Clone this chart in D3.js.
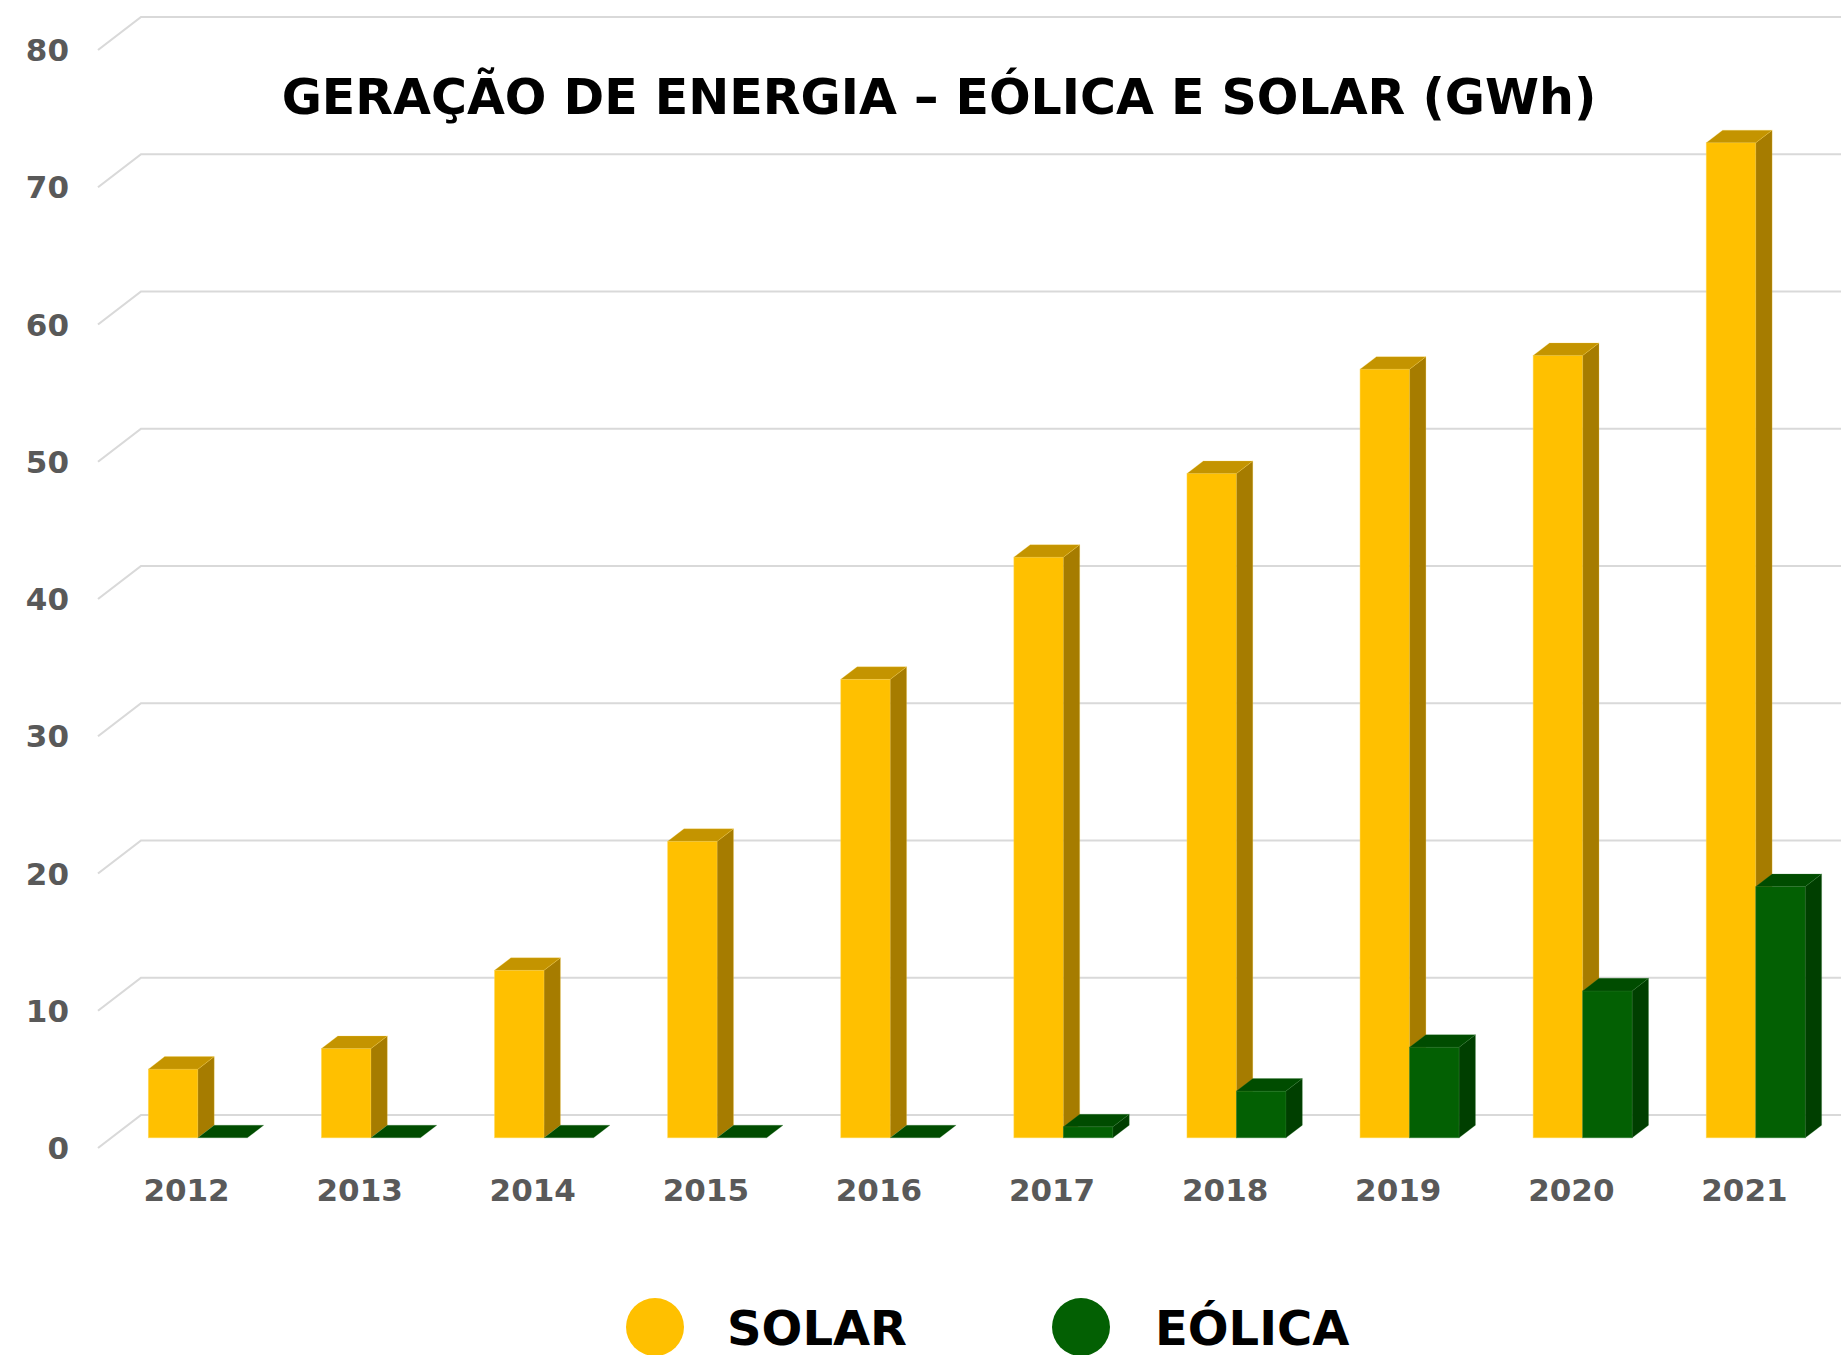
<!DOCTYPE html>
<html>
<head>
<meta charset="utf-8">
<script src="https://cdn.jsdelivr.net/npm/d3@7"></script>
<style>
  html, body { margin: 0; padding: 0; background: #ffffff; }
  svg { display: block; }
  text { font-family: "DejaVu Sans", Verdana, sans-serif; font-weight: bold; }
</style>
</head>
<body>
<svg id="chart" width="1841" height="1355"></svg>
<script>
// Annual generation, GWh
const years = ["2012", "2013", "2014", "2015", "2016", "2017", "2018", "2019", "2020", "2021"];
const solar = [5.0, 6.5, 12.2, 21.6, 33.4, 42.3, 48.4, 56.0, 57.0, 72.5];
const eolica = [0, 0, 0, 0, 0, 0.8, 3.4, 6.6, 10.7, 18.3];
const seriesNames = ["SOLAR", "EÓLICA"];
const yTicks = [0, 10, 20, 30, 40, 50, 60, 70, 80];
const titleText = "GERAÇÃO DE ENERGIA – EÓLICA E SOLAR (GWh)";

// face colours per series: front, top, side
const palette = {
  "SOLAR":  { front: "#FFC000", top: "#C49400", side: "#A67C00", edge: "#FFD54A" },
  "EÓLICA": { front: "#036003", top: "#004C00", side: "#003F00", edge: "#2E7D2E" }
};

const svg = d3.select("#chart");

// oblique projection of the floor depth
const DEPTH_X = 43, DEPTH_Y = -33;
const barFront = 0.31, barBack = 0.69;

const x = d3.scaleBand().domain(years).range([98, 1829]).paddingInner(0.428).paddingOuter(0.214);
const xs = d3.scaleBand().domain(seriesNames).range([0, x.bandwidth()]).padding(0);
const y = d3.scaleLinear().domain([0, 80]).range([1148, 50]);

// gridlines: diagonal on the side wall, then along the back wall
const grid = svg.append("g");
yTicks.forEach(t => {
  const y0 = y(t);
  grid.append("path")
    .attr("d", `M${x.range()[0]},${y0} L${x.range()[0] + DEPTH_X},${y0 + DEPTH_Y} L1841,${y0 + DEPTH_Y}`)
    .attr("fill", "none")
    .attr("stroke", "#D9D9D9")
    .attr("stroke-width", 2.2);
});

// y-axis labels
svg.append("g").selectAll("text").data(yTicks).join("text")
  .attr("x", 69)
  .attr("y", d => y(d))
  .attr("dy", "0.36em")
  .attr("text-anchor", "end")
  .attr("font-size", 31)
  .attr("fill", "#595959")
  .text(d => d);

// 3D bars
const rows = years.map((yr, i) => ({ year: yr, values: [solar[i], eolica[i]] }));
const fdx = DEPTH_X * barFront, fdy = DEPTH_Y * barFront;
const bdx = DEPTH_X * (barBack - barFront), bdy = DEPTH_Y * (barBack - barFront);

const bars = svg.append("g");
rows.forEach(r => {
  seriesNames.forEach((s, si) => {
    const v = r.values[si];
    const c = palette[s];
    const x0 = x(r.year) + xs(s) + fdx;
    const x1 = x0 + xs.bandwidth();
    const yb = y(0) + fdy;
    const yt = y(v) + fdy;
    const g = bars.append("g");
    if (v > 0) {
      // front face
      g.append("rect")
        .attr("x", x0).attr("y", yt)
        .attr("width", x1 - x0).attr("height", yb - yt)
        .attr("fill", c.front)
        .attr("stroke", c.edge).attr("stroke-width", 0.8).attr("stroke-opacity", 0.6);
      // side face
      g.append("path")
        .attr("d", `M${x1},${yt} L${x1 + bdx},${yt + bdy} L${x1 + bdx},${yb + bdy} L${x1},${yb} Z`)
        .attr("fill", c.side)
        .attr("stroke", c.edge).attr("stroke-width", 0.6).attr("stroke-opacity", 0.4);
    }
    // top face
    g.append("path")
      .attr("d", `M${x0},${yt} L${x0 + bdx},${yt + bdy} L${x1 + bdx},${yt + bdy} L${x1},${yt} Z`)
      .attr("fill", c.top)
      .attr("stroke", c.edge).attr("stroke-width", 0.6).attr("stroke-opacity", 0.4);
  });
});

// category labels
svg.append("g").selectAll("text").data(years).join("text")
  .attr("x", d => x(d) + x.bandwidth() / 2 + 2)
  .attr("y", 1201)
  .attr("text-anchor", "middle")
  .attr("font-size", 31)
  .attr("fill", "#595959")
  .text(d => d);

// title
svg.append("text")
  .attr("x", 939)
  .attr("y", 114)
  .attr("text-anchor", "middle")
  .attr("font-size", 49)
  .attr("fill", "#000000")
  .text(titleText);

// legend
const legendItems = [
  { name: "SOLAR", cx: 655, tx: 727 },
  { name: "EÓLICA", cx: 1081, tx: 1155 }
];
const lg = svg.append("g");
legendItems.forEach(it => {
  lg.append("circle")
    .attr("cx", it.cx).attr("cy", 1327).attr("r", 29)
    .attr("fill", palette[it.name].front);
  lg.append("text")
    .attr("x", it.tx).attr("y", 1345)
    .attr("font-size", 48)
    .attr("fill", "#000000")
    .text(it.name);
});
</script>
</body>
</html>
